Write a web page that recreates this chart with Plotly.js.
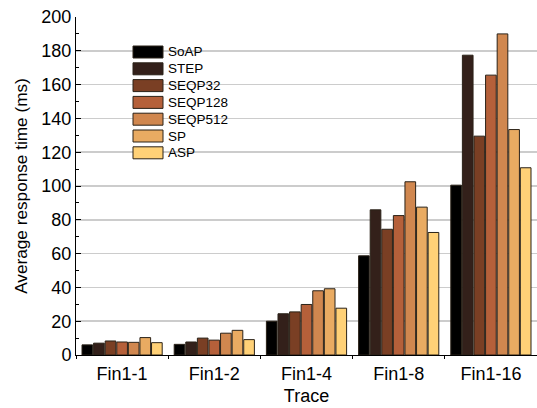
<!DOCTYPE html>
<html><head><meta charset="utf-8">
<script src="https://cdn.plot.ly/plotly-3.0.1.min.js"></script>
<style>html,body{margin:0;padding:0;background:#fff}#chart{width:537px;height:408px}</style>
</head><body><div id="chart"></div>
<script>
const categories = ["Fin1-1", "Fin1-2", "Fin1-4", "Fin1-8", "Fin1-16"];
const seriesNames = ["SoAP", "STEP", "SEQP32", "SEQP128", "SEQP512", "SP", "ASP"];
const SoAP    = [6.0, 6.3, 20.0, 58.7, 100.5];
const STEP    = [7.0, 7.7, 24.4, 85.9, 177.4];
const SEQP32  = [8.3, 10.0, 25.5, 74.4, 129.5];
const SEQP128 = [7.7, 8.8, 29.9, 82.5, 165.6];
const SEQP512 = [7.5, 12.9, 38.0, 102.5, 190.0];
const SP      = [10.3, 14.6, 39.2, 87.5, 133.4];
const ASP     = [7.3, 9.1, 27.7, 72.5, 110.8];
const seriesValues = [SoAP, STEP, SEQP32, SEQP128, SEQP512, SP, ASP];
const colors = ["#000000", "#33201a", "#7a3f24", "#b5603a", "#d0874f", "#e9ab62", "#ffd177"];

const font = "Liberation Sans, Arial, sans-serif";
const traces = seriesNames.map((n, i) => ({
  type: "bar", name: n, x: categories, y: seriesValues[i],
  marker: {color: colors[i], line: {color: "#2a2218", width: 1}},
  showlegend: false
}));

const shapes = [], annotations = [];
const W = 461, H = 338, L = 76, T = 17;
seriesNames.forEach((n, i) => {
  const top = 46 + i * 16.8;
  shapes.push({type: "rect", xref: "paper", yref: "paper",
    x0: (133 - L) / W, x1: (163 - L) / W,
    y0: 1 - (top + 12 - T) / H, y1: 1 - (top - T) / H,
    fillcolor: colors[i], line: {color: "#2a2218", width: 1}, layer: "above"});
  annotations.push({xref: "paper", yref: "paper", x: (166 - L) / W, y: 1 - (top + 6 - T) / H,
    xanchor: "left", yanchor: "middle", text: n, showarrow: false,
    font: {family: font, size: 13.5, color: "#000"}});
});

const layout = {
  width: 537, height: 408,
  margin: {l: L, r: 0, t: T, b: 53},
  paper_bgcolor: "#fff", plot_bgcolor: "#fff",
  barmode: "group", bargap: 0.12, bargroupgap: 0.08,
  font: {family: font, size: 18, color: "#000"},
  xaxis: {
    type: "category", range: [-0.5, 4.5],
    title: {text: "Trace", font: {family: font, size: 18}, standoff: 6},
    showline: true, linecolor: "#000", linewidth: 1,
    ticks: "outside", ticklen: 3, tickson: "boundaries", tickcolor: "#000",
    ticklabelstandoff: 2,
    showgrid: false, tickfont: {size: 18}
  },
  yaxis: {
    range: [0, 200], dtick: 20,
    title: {text: "Average response time (ms)", font: {family: font, size: 17.2}, standoff: 9},
    showline: true, linecolor: "#000", linewidth: 1,
    ticks: "inside", ticklen: 5, tickcolor: "#000",
    minor: {dtick: 10, ticks: "inside", ticklen: 3, tickcolor: "#000", showgrid: false},
    showgrid: true, gridcolor: "#cccccc", gridwidth: 1.5,
    zeroline: false, tickfont: {size: 18}
  },
  shapes: shapes, annotations: annotations
};
Plotly.newPlot("chart", traces, layout, {displayModeBar: false, staticPlot: true});
</script></body></html>
